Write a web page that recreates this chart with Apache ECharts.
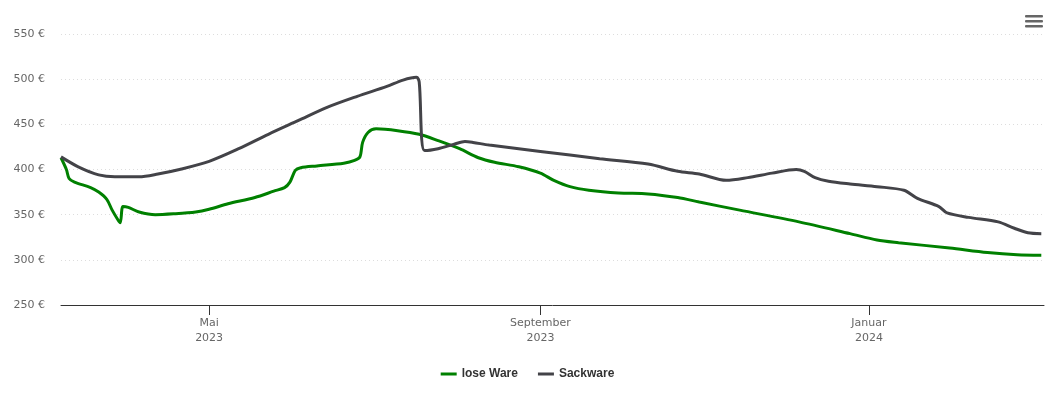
<!DOCTYPE html>
<html>
<head>
<meta charset="utf-8">
<script src="https://cdn.jsdelivr.net/npm/echarts@6/dist/echarts.min.js"></script>
<style>
html,body{margin:0;padding:0;background:#fff;}
#c{width:1055px;height:402px;}
</style>
</head>
<body>
<div id="c"></div>
<script>
const seriesNames = ['lose Ware', 'Sackware'];
const loseWareDates = ['2023-03-07','2023-03-09','2023-03-10','2023-03-12','2023-03-18','2023-03-21','2023-03-24','2023-03-26','2023-03-28','2023-03-29','2023-03-30','2023-04-01','2023-04-05','2023-04-11','2023-04-18','2023-04-26','2023-05-01','2023-05-08','2023-05-18','2023-05-25','2023-05-29','2023-05-31','2023-06-02','2023-06-04','2023-06-10','2023-06-20','2023-06-24','2023-06-26','2023-06-27','2023-06-29','2023-07-02','2023-07-10','2023-07-18','2023-07-25','2023-08-02','2023-08-09','2023-08-15','2023-08-24','2023-09-01','2023-09-06','2023-09-12','2023-09-19','2023-09-30','2023-10-11','2023-10-22','2023-10-30','2023-11-14','2023-12-06','2023-12-25','2024-01-04','2024-01-12','2024-01-31','2024-02-14','2024-02-25','2024-03-05'];
const loseWareValues = [413,400,390,386,380,375,367,355,345,341,359,358,353,350,351,353,356,362,369,376,380,386,399,402,404,407,410,414,430,441,445,443,439,432,423,413,408,403,396,388,381,377,374,373,369,364,355,342,329,322,319,313,308,305.5,305];
const sackwareDates = ['2023-03-07','2023-03-14','2023-03-21','2023-03-27','2023-04-05','2023-04-12','2023-04-20','2023-05-01','2023-05-12','2023-05-23','2023-06-03','2023-06-14','2023-06-25','2023-07-06','2023-07-12','2023-07-17','2023-07-18','2023-07-20','2023-07-25','2023-07-31','2023-08-04','2023-08-07','2023-08-13','2023-09-01','2023-09-23','2023-10-11','2023-10-22','2023-10-30','2023-11-09','2023-11-17','2023-11-26','2023-12-05','2023-12-08','2023-12-12','2023-12-17','2023-12-25','2024-01-04','2024-01-14','2024-01-19','2024-01-27','2024-01-30','2024-02-07','2024-02-18','2024-02-24','2024-02-29','2024-03-05'];
const sackwareValues = [414,402,394,392,392,395,400,409,423,439,454,469,481,492,499,502,497,421,423,428,431,430,427,420,412,406,398,395,388,391,396,400,398,391,387,384,381,377,368,359,352,347,342,335,330,329];
const xTickDates = ['2023-05-01','2023-09-01','2024-01-01'];
const monthNames = ['Januar','Februar','März','April','Mai','Juni','Juli','August','September','Oktober','November','Dezember'];
const yTicks = [250,300,350,400,450,500,550];

const toTs = s => { const p = s.split('-').map(Number); return Date.UTC(p[0], p[1]-1, p[2]); };
const zip = (d, v) => d.map((x, i) => [toTs(x), v[i]]);
const tickTs = xTickDates.map(toTs);

const chart = echarts.init(document.getElementById('c'), null, {renderer: 'canvas'});
const font = '"DejaVu Sans", "Lucida Grande", Arial, sans-serif';
chart.setOption({
  animation: false,
  textStyle: {fontFamily: font},
  grid: {left: 61, right: 11, top: 34, bottom: 97},
  legend: {
    bottom: 17, left: 'center', itemWidth: 16, itemHeight: 3, itemGap: 20,
    icon: 'rect',
    textStyle: {fontFamily: '"Liberation Sans", Arial, sans-serif', fontSize: 12, fontWeight: 'bold', color: '#333'},
    data: seriesNames
  },
  xAxis: {
    type: 'value',
    min: toTs('2023-03-07'), max: toTs('2024-03-06'),
    axisLine: {show: true, lineStyle: {color: '#333', width: 1}},
    axisTick: {show: true, length: 10, lineStyle: {color: '#333'}, customValues: tickTs},
    axisLabel: {
      customValues: tickTs,
      color: '#666', fontSize: 11, fontFamily: font, lineHeight: 15, margin: 11,
      formatter: v => { const d = new Date(v); return monthNames[d.getUTCMonth()] + '\n' + d.getUTCFullYear(); }
    },
    splitLine: {show: false}
  },
  yAxis: {
    type: 'value', min: yTicks[0], max: yTicks[yTicks.length-1], interval: 50,
    axisLine: {show: false}, axisTick: {show: false},
    axisLabel: {color: '#666', fontSize: 11, fontFamily: font, margin: 16, formatter: v => v + ' €'},
    splitLine: {lineStyle: {color: '#ddd', type: [1, 3], width: 1}}
  },
  series: [
    {name: seriesNames[0], type: 'line', data: zip(loseWareDates, loseWareValues), smooth: 0.3, showSymbol: false, symbol: 'none', color: '#008000', lineStyle: {width: 3, color: '#008000'}},
    {name: seriesNames[1], type: 'line', data: zip(sackwareDates, sackwareValues), smooth: 0.3, showSymbol: false, symbol: 'none', color: '#434348', lineStyle: {width: 3, color: '#434348'}}
  ],
  graphic: [
    {type: 'rect', shape: {x: 1025, y: 15, width: 18, height: 2.5, r: 1}, style: {fill: '#666'}},
    {type: 'rect', shape: {x: 1025, y: 20, width: 18, height: 2.5, r: 1}, style: {fill: '#666'}},
    {type: 'rect', shape: {x: 1025, y: 25, width: 18, height: 2.5, r: 1}, style: {fill: '#666'}}
  ]
});
</script>
</body>
</html>
